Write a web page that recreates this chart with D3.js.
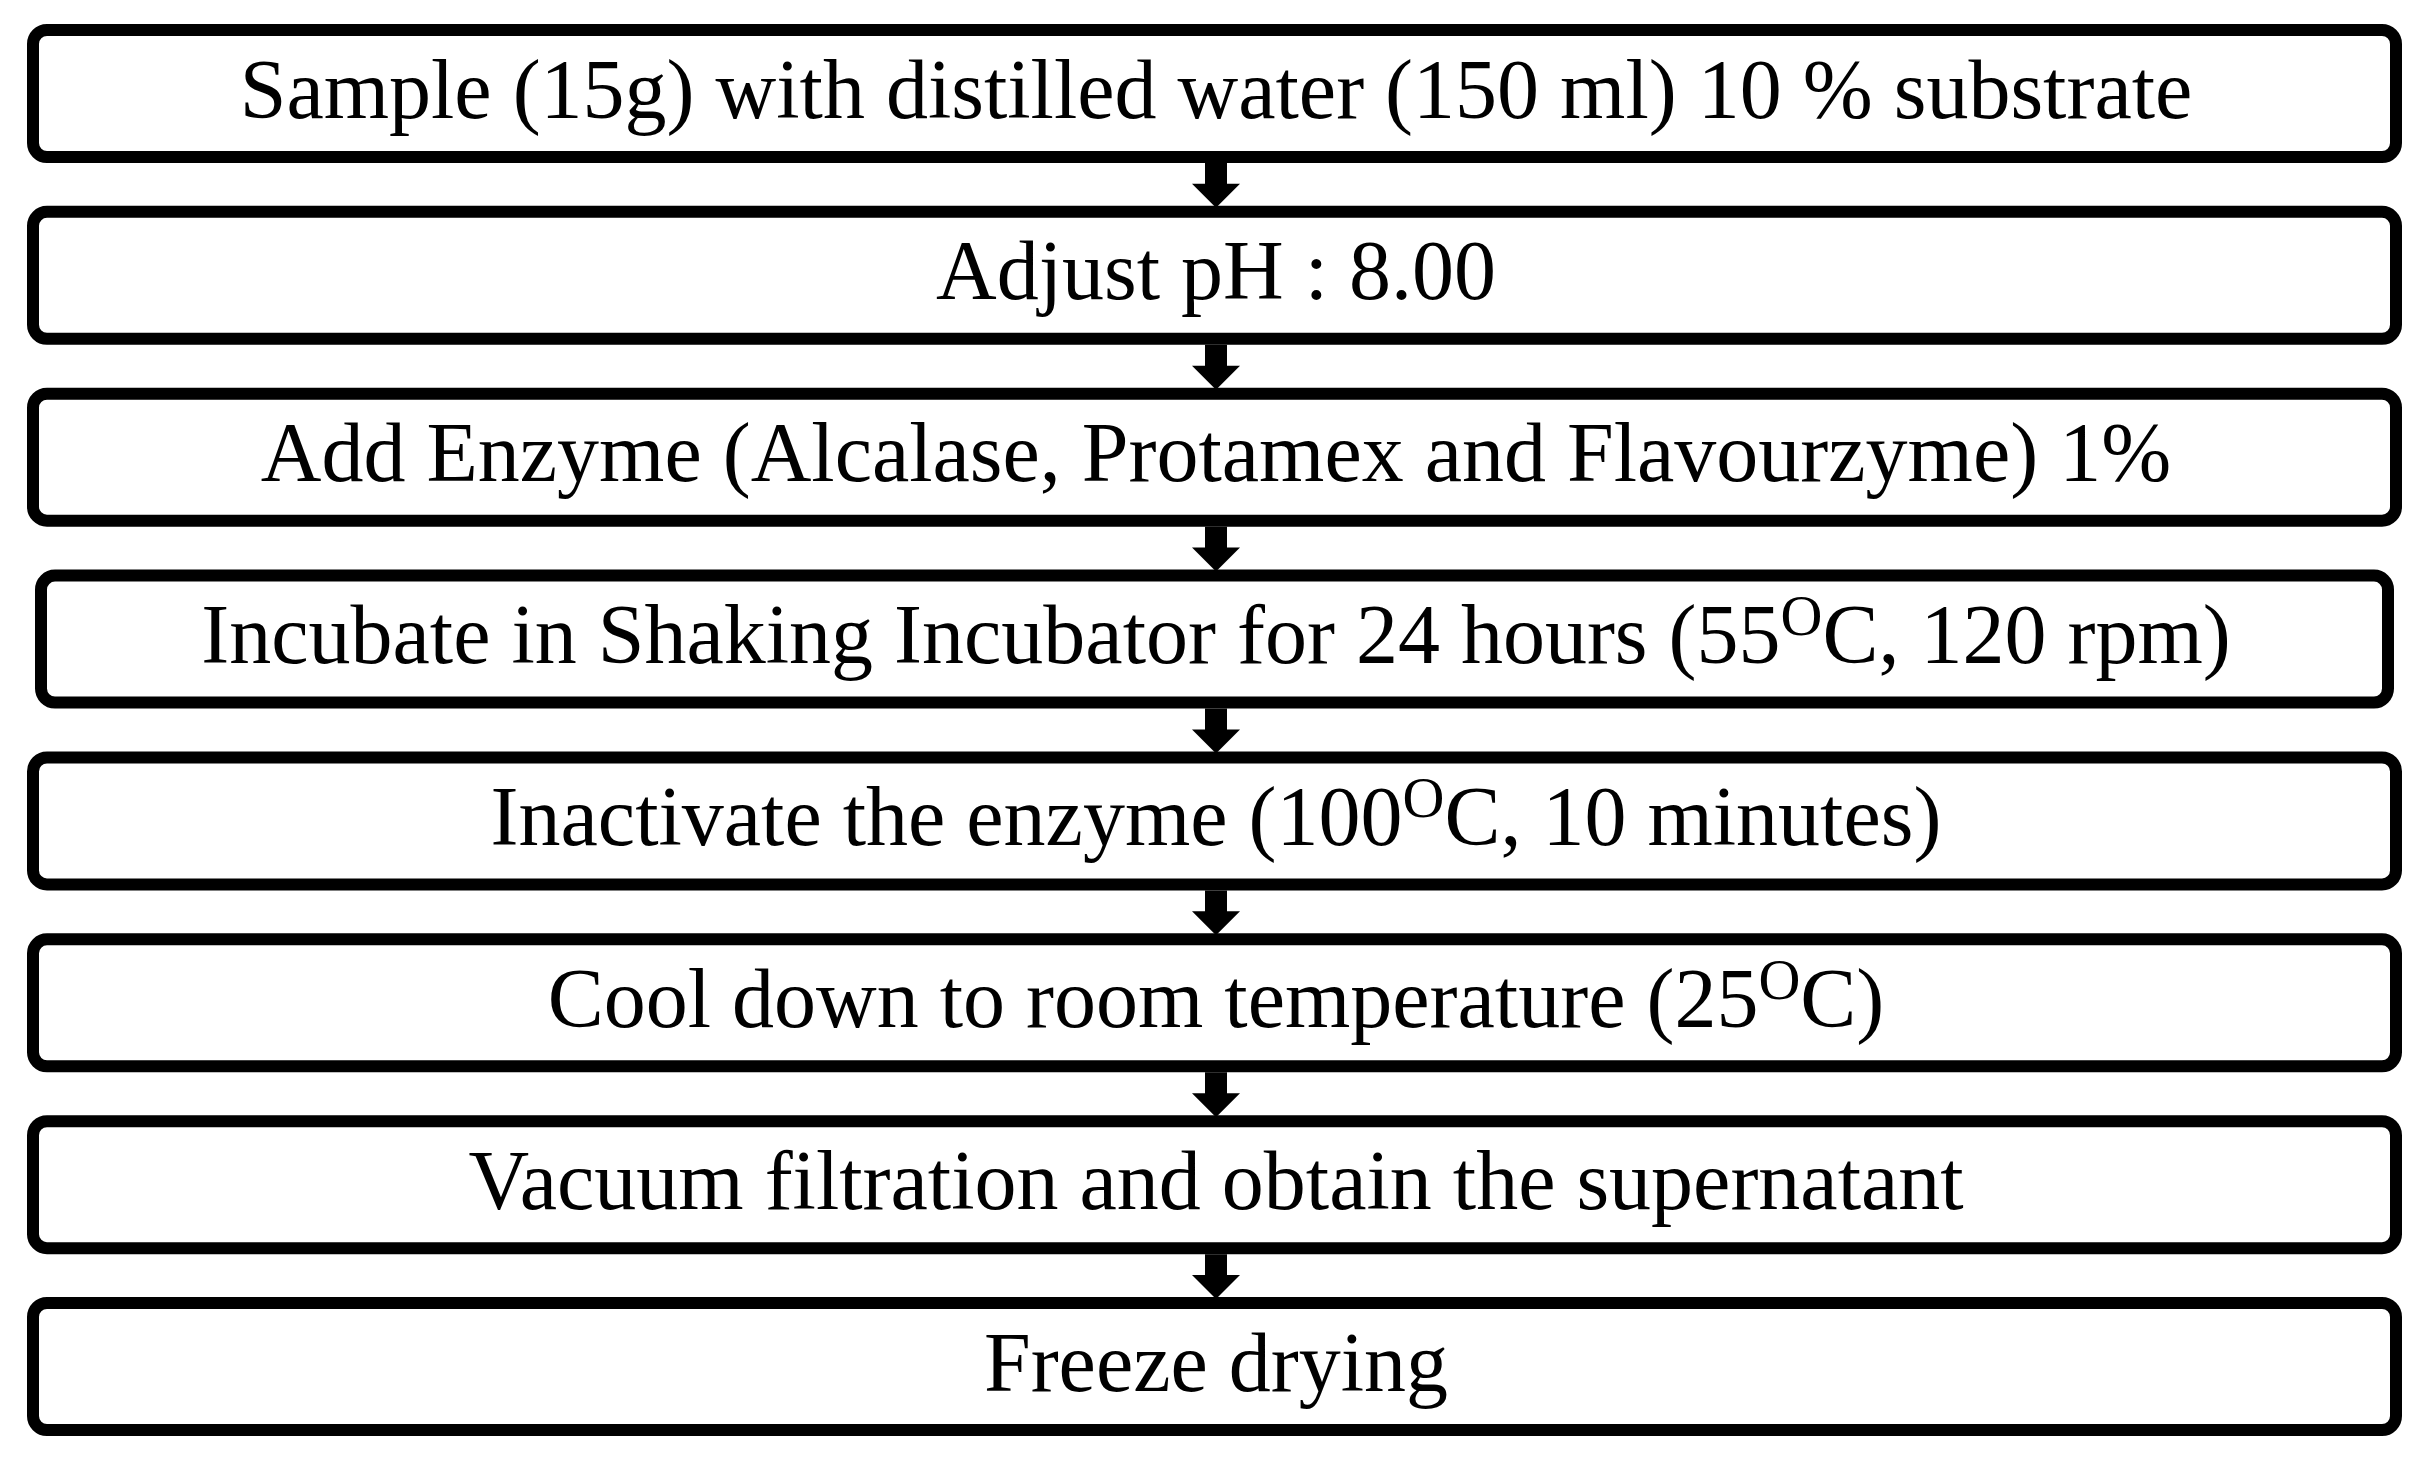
<!DOCTYPE html>
<html>
<head>
<meta charset="utf-8">
<script src="https://cdn.jsdelivr.net/npm/d3@7"></script>
<style>
  body { margin: 0; background: #fff; }
</style>
</head>
<body>
<div id="vis"></div>
<script>
const FRAME_WIDTH = 2426;
const FRAME_HEIGHT = 1458;

// steps: each label is a list of [text, isSuperscript]
const steps = [
  [["Sample (15g) with distilled water (150 ml) 10 % substrate", false]],
  [["Adjust pH : 8.00", false]],
  [["Add Enzyme (Alcalase, Protamex and Flavourzyme) 1%", false]],
  [["Incubate in Shaking Incubator for 24 hours (55", false], ["O", true], ["C, 120 rpm)", false]],
  [["Inactivate the enzyme (100", false], ["O", true], ["C, 10 minutes)", false]],
  [["Cool down to room temperature (25", false], ["O", true], ["C)", false]],
  [["Vacuum filtration and obtain the supernatant", false]],
  [["Freeze drying", false]]
];
// horizontal inset per step (box 4 is drawn slightly narrower)
const insets = [0, 0, 0, 8, 0, 0, 0, 0];

const BOX_H = 127;
const BOX_LEFT = 33, BOX_RIGHT = 2396;
const STROKE = 12;
const CX = 1216;

const Y = d3.scaleLinear().domain([0, steps.length - 1]).range([30, 1303]);

const svg = d3.select("#vis").append("svg")
  .attr("width", FRAME_WIDTH)
  .attr("height", FRAME_HEIGHT);

// boxes
svg.selectAll("rect.box")
  .data(steps)
  .enter()
  .append("rect")
    .attr("class", "box")
    .attr("x", (d, i) => BOX_LEFT + insets[i])
    .attr("y", (d, i) => Y(i))
    .attr("width", (d, i) => BOX_RIGHT - BOX_LEFT - 2 * insets[i])
    .attr("height", BOX_H)
    .attr("rx", 14)
    .attr("fill", "#fff")
    .attr("stroke", "#000")
    .attr("stroke-width", STROKE);

// labels
const labels = svg.selectAll("text.label")
  .data(steps)
  .enter()
  .append("text")
    .attr("class", "label")
    .attr("x", CX)
    .attr("y", (d, i) => Y(i) + BOX_H / 2 + 24)
    .attr("text-anchor", "middle")
    .attr("font-family", "'Liberation Serif', 'Times New Roman', serif")
    .attr("font-size", 84)
    .attr("fill", "#000");

labels.selectAll("tspan")
  .data(d => d)
  .enter()
  .append("tspan")
    .attr("font-size", d => d[1] ? 58 : null)
    .attr("dy", (d, i, nodes) => {
      if (d[1]) return -28;
      if (i > 0 && d3.select(nodes[i - 1]).datum()[1]) return 28;
      return null;
    })
    .text(d => d[0]);

// arrows between boxes
const arrow = d3.path;
svg.selectAll("path.arrow")
  .data(d3.range(steps.length - 1))
  .enter()
  .append("path")
    .attr("class", "arrow")
    .attr("fill", "#000")
    .attr("d", i => {
      const top = Y(i) + BOX_H + STROKE / 2;
      const bot = Y(i + 1) - STROKE / 2;
      const headH = 22, shaftW = 11, headW = 24;
      const p = arrow();
      p.moveTo(CX - shaftW, top);
      p.lineTo(CX + shaftW, top);
      p.lineTo(CX + shaftW, bot - headH);
      p.lineTo(CX + headW, bot - headH);
      p.lineTo(CX, bot + 2);
      p.lineTo(CX - headW, bot - headH);
      p.lineTo(CX - shaftW, bot - headH);
      p.closePath();
      return p.toString();
    });
</script>
</body>
</html>
